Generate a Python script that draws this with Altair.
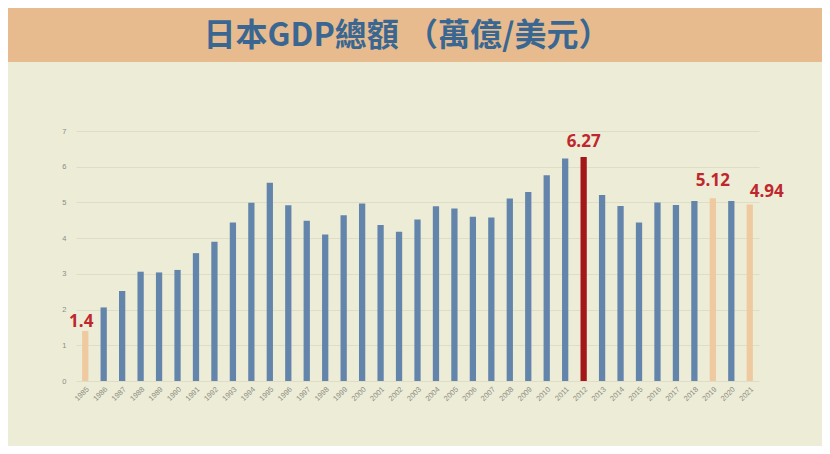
import altair as alt
import pandas as pd

# ---- data ----
years = [str(y) for y in range(1985, 2022)]
gdp = [1.40, 2.06, 2.52, 3.06, 3.04, 3.11, 3.58, 3.90, 4.44, 4.99,
       5.55, 4.92, 4.49, 4.10, 4.64, 4.97, 4.37, 4.18, 4.52, 4.89,
       4.83, 4.60, 4.58, 5.11, 5.29, 5.76, 6.23, 6.27, 5.21, 4.90,
       4.44, 5.00, 4.93, 5.04, 5.12, 5.04, 4.94]
light_years = ["1985", "2019", "2021"]
peak_years = ["2012"]
label_years = ["1985", "2012", "2019", "2021"]
label_texts = ["1.4", "6.27", "5.12", "4.94"]
y_ticks = [0, 1, 2, 3, 4, 5, 6, 7]
title_text = "日本GDP總額 （萬億/美元）"

kinds = ["light" if y in light_years else ("peak" if y in peak_years else "normal") for y in years]
df = pd.DataFrame({"year": years, "gdp": gdp, "kind": kinds})
gdp_map = dict(zip(years, gdp))
df_lab = pd.DataFrame({"year": label_years, "txt": label_texts,
                       "gdp": [gdp_map[y] for y in label_years]})

# ---- style ----
W, H = 683, 250
BG = "#EDECD6"
BAND = "#E8BB8E"
BLUE = "#6385AB"
LIGHT = "#EFC9A0"
PEAK = "#A3161A"
RED = "#C0272D"
AXC = "#8C8C84"

xenc = alt.X("year:N", sort=years,
             scale=alt.Scale(paddingInner=0.66, paddingOuter=0.33),
             axis=alt.Axis(title=None, labelAngle=-45, labelFontSize=7.5,
                           labelColor=AXC, ticks=False, domain=False,
                           labelPadding=4, labelFont="Liberation Sans"))
yenc = alt.Y("gdp:Q", scale=alt.Scale(domain=[0, 7], nice=False),
             axis=alt.Axis(title=None, values=y_ticks, labelFontSize=7.5,
                           labelColor=AXC, ticks=False, domain=False,
                           labelPadding=10, gridColor="#DFDDC6", gridWidth=1,
                           labelFont="Liberation Sans", labelOverlap=False))

bars = alt.Chart(df).mark_bar().encode(
    x=xenc, y=yenc,
    color=alt.Color("kind:N", scale=alt.Scale(domain=["normal", "light", "peak"],
                                              range=[BLUE, LIGHT, PEAK]), legend=None),
)

offsets = {"1985": (-4, -9), "2012": (0, -15), "2019": (0, -17), "2021": (17, -13)}
label_layers = []
for y, (dx, dy) in offsets.items():
    label_layers.append(
        alt.Chart(df_lab).transform_filter(alt.datum.year == y)
        .mark_text(dx=dx, dy=dy, baseline="middle", align="center", fontSize=17,
                   fontWeight="bold", font="Open Sans", color=RED)
        .encode(x=xenc, y=yenc, text="txt:N")
    )

band = alt.Chart(pd.DataFrame({"t": [title_text]})).mark_rect(color=BAND).encode(
    x=alt.value(-68), x2=alt.value(746), y=alt.value(-123), y2=alt.value(-69))
title = alt.Chart(pd.DataFrame({"t": [title_text]})).mark_text(
    fontSize=32, fontWeight="bold", font="Noto Sans CJK TC", color="#3A6791",
    baseline="middle", align="center").encode(
    text="t:N", x=alt.value(331), y=alt.value(-95))

chart = alt.layer(band, title, bars, *label_layers).properties(
    width=W, height=H,
    padding={"left": 68, "top": 123, "right": 63, "bottom": 65},
    autosize=alt.AutoSizeParams(type="none"),
    background=BG,
).configure_view(stroke=None)

chart.save("out.html", embed_options={"renderer": "svg", "actions": False})
